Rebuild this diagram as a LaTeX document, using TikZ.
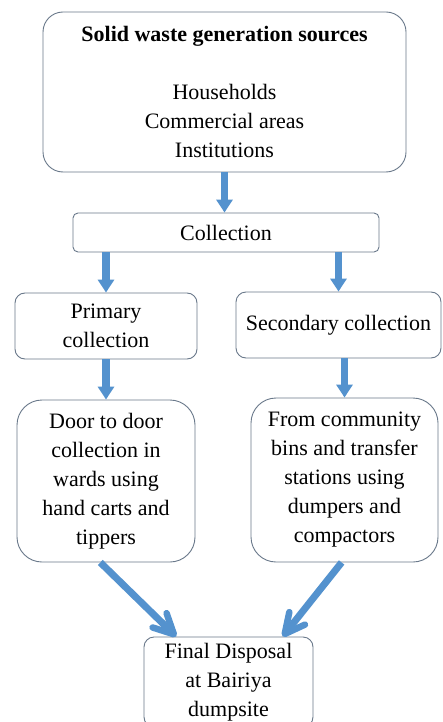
\documentclass[tikz,border=0pt]{standalone}
\usepackage{fontspec}
\setmainfont{Liberation Serif}
\usetikzlibrary{arrows.meta}
\definecolor{boxline}{RGB}{105,120,138}
\definecolor{arrowblue}{RGB}{84,146,206}
\tikzset{
  box/.style={draw=boxline, line width=0.9pt, fill=white, align=center, inner sep=0pt,
    font=\rmfamily\fontsize{22}{29}\selectfont},
  varrow/.style={draw=arrowblue, line width=7.5pt, -{Triangle[length=13pt,width=16pt]}},
  darrow/.style={draw=arrowblue, line width=7pt, line cap=butt,
    -{Straight Barb[length=20pt,width=20pt,line width=6.5pt,round]}}
}
\begin{document}
\begin{tikzpicture}[x=1pt,y=-1pt]
\clip (0,0) rectangle (443,722);
\fill[white] (0,0) rectangle (443,722);
\node[box, rounded corners=20pt, minimum width=363pt, minimum height=160pt] (top) at (224.5,92)
  {\textbf{Solid waste generation sources}\\[0pt] \\ Households\\ Commercial areas\\ Institutions};
\node[box, rounded corners=5pt, minimum width=306pt, minimum height=39pt] (coll) at (226,232.5) {Collection};
\node[box, rounded corners=10pt, minimum width=182pt, minimum height=66pt] (prim) at (106,326) {Primary\\ collection};
\node[box, rounded corners=10pt, minimum width=205pt, minimum height=66pt] (sec) at (338.5,325) {Secondary collection};
\node[box, rounded corners=25pt, minimum width=178pt, minimum height=162pt] (door) at (106,481)
  {Door to door\\ collection in\\ wards using\\ hand carts and\\ tippers};
\node[box, rounded corners=25pt, minimum width=187pt, minimum height=164pt] (from) at (344.5,480)
  {From community\\ bins and transfer\\ stations using\\ dumpers and\\ compactors};
\node[box, rounded corners=10pt, minimum width=169pt, minimum height=90pt] (final) at (228.5,682)
  {Final Disposal\\ at Bairiya\\ dumpsite};
\draw[varrow] (top.south) -- (top.south |- coll.north);
\draw[varrow] (prim.north |- coll.south) -- (prim.north);
\draw[varrow] (sec.north |- coll.south) -- (sec.north);
\draw[varrow] (prim.south) -- (door.north);
\draw[varrow] (from.north |- sec.south) -- (from.north);
\draw[darrow] (door.-94) -- (final.139);
\draw[darrow] (from.-92) -- (final.40);
\end{tikzpicture}
\end{document}
